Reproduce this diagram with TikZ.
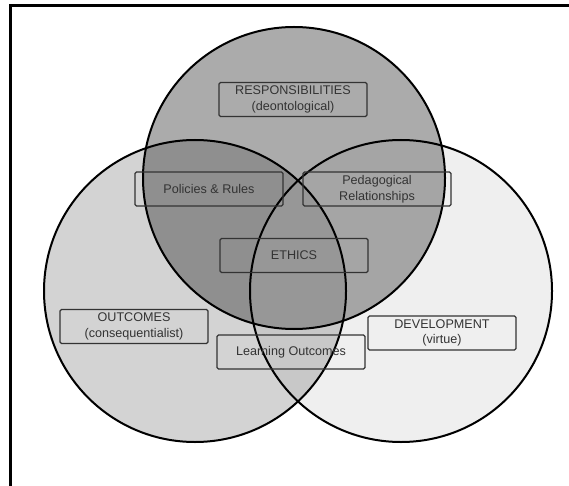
\documentclass[tikz,border=0pt]{standalone}
\usepackage{fontspec}
\setmainfont{Liberation Sans}
\usepackage{tikz}

\definecolor{respgray}{HTML}{ABABAB}
\definecolor{outcgray}{HTML}{D3D3D3}
\definecolor{develgray}{HTML}{EFEFEF}
\definecolor{respoutc}{HTML}{8F8F8F}
\definecolor{respdevel}{HTML}{A5A5A5}
\definecolor{outcdevel}{HTML}{C8C8C8}
\definecolor{allthree}{HTML}{979797}
\definecolor{boxline}{HTML}{333333}

\tikzstyle{ring} = [draw=black, line width=2pt]
\tikzstyle{labelbox} = [draw=boxline, line width=1.3pt, rectangle,
    rounded corners=1.5pt, minimum width=148pt, minimum height=34pt,
    inner sep=0pt, align=center, text=boxline,
    font=\fontsize{12.6pt}{15.5pt}\selectfont]
\tikzstyle{frame} = [draw=black, line width=3pt]

\begin{document}
\begin{tikzpicture}[x=1pt, y=1pt]
    \useasboundingbox (0,0) rectangle (569,-486);
    % circle centres
    \coordinate (resp) at (294,-178);
    \coordinate (outc) at (195,-291);
    \coordinate (devel) at (401,-291);
    \def\rad{151}

    % base fills
    \fill[develgray] (devel) circle[radius=\rad];
    \fill[outcgray] (outc) circle[radius=\rad];
    \fill[respgray] (resp) circle[radius=\rad];

    % overlaps
    \begin{scope}
        \clip (resp) circle[radius=\rad];
        \fill[respoutc] (outc) circle[radius=\rad];
        \fill[respdevel] (devel) circle[radius=\rad];
        \clip (outc) circle[radius=\rad];
        \fill[allthree] (devel) circle[radius=\rad];
    \end{scope}
    \begin{scope}
        \clip (outc) circle[radius=\rad];
        \clip (devel) circle[radius=\rad];
        \fill[outcdevel, even odd rule] (resp) circle[radius=\rad] (0,0) rectangle (569,-486);
    \end{scope}

    % outlines
    \draw[ring] (resp) circle[radius=\rad];
    \draw[ring] (outc) circle[radius=\rad];
    \draw[ring] (devel) circle[radius=\rad];

    % labels
    \node[labelbox] (respbox) at (293,-99.5) {RESPONSIBILITIES\\(deontological)};
    \node[labelbox] (policies) at (209,-189) {Policies \& Rules};
    \node[labelbox] (pedagogy) at (377,-189) {Pedagogical\\Relationships};
    \node[labelbox] (ethics) at (294,-255.5) {ETHICS};
    \node[labelbox] (outcbox) at (134,-326.5) {OUTCOMES\\(consequentialist)};
    \node[labelbox] (learning) at (291,-352) {Learning Outcomes};
    \node[labelbox] (develbox) at (442,-333) {DEVELOPMENT\\(virtue)};

    % frame
    \draw[frame] (10,-486) -- (10,-6) -- (569,-6);
\end{tikzpicture}
\end{document}
